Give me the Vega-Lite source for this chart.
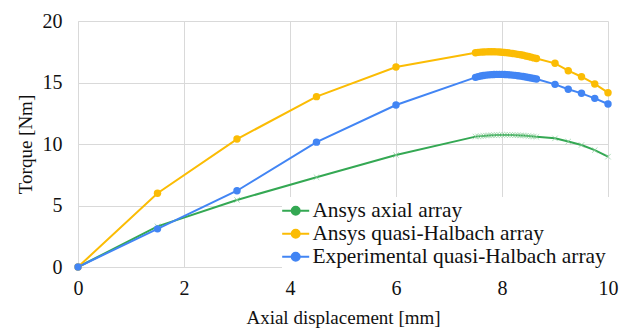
{
  "$schema": "https://vega.github.io/schema/vega-lite/v6.json",
  "width": 530,
  "height": 246,
  "autosize": "none",
  "padding": {"left": 78, "top": 21, "right": 11, "bottom": 62},
  "background": "white",
  "config": {
    "view": {"stroke": null},
    "font": "Liberation Serif",
    "axis": {
      "gridColor": "#d9d9d9",
      "domainColor": "#d9d9d9",
      "ticks": false,
      "labelFont": "Liberation Serif",
      "titleFont": "Liberation Serif",
      "labelFontSize": 20,
      "titleFontSize": 19,
      "labelColor": "#111",
      "titleColor": "#111",
      "titleFontWeight": "normal",
      "labelFlush": false
    }
  },
  "data": {"values": [
    {"x": 0, "y": 0, "s": "Ansys axial array"},
    {"x": 1.5, "y": 3.3, "s": "Ansys axial array"},
    {"x": 3, "y": 5.45, "s": "Ansys axial array"},
    {"x": 4.5, "y": 7.3, "s": "Ansys axial array"},
    {"x": 6, "y": 9.1, "s": "Ansys axial array"},
    {"x": 7.5, "y": 10.6, "s": "Ansys axial array"},
    {"x": 7.55, "y": 10.62, "s": "Ansys axial array"},
    {"x": 7.6, "y": 10.64, "s": "Ansys axial array"},
    {"x": 7.65, "y": 10.66, "s": "Ansys axial array"},
    {"x": 7.7, "y": 10.68, "s": "Ansys axial array"},
    {"x": 7.75, "y": 10.7, "s": "Ansys axial array"},
    {"x": 7.8, "y": 10.71, "s": "Ansys axial array"},
    {"x": 7.85, "y": 10.72, "s": "Ansys axial array"},
    {"x": 7.9, "y": 10.73, "s": "Ansys axial array"},
    {"x": 7.95, "y": 10.73, "s": "Ansys axial array"},
    {"x": 8.0, "y": 10.74, "s": "Ansys axial array"},
    {"x": 8.05, "y": 10.74, "s": "Ansys axial array"},
    {"x": 8.1, "y": 10.74, "s": "Ansys axial array"},
    {"x": 8.15, "y": 10.73, "s": "Ansys axial array"},
    {"x": 8.2, "y": 10.73, "s": "Ansys axial array"},
    {"x": 8.25, "y": 10.72, "s": "Ansys axial array"},
    {"x": 8.3, "y": 10.71, "s": "Ansys axial array"},
    {"x": 8.35, "y": 10.7, "s": "Ansys axial array"},
    {"x": 8.4, "y": 10.69, "s": "Ansys axial array"},
    {"x": 8.45, "y": 10.67, "s": "Ansys axial array"},
    {"x": 8.5, "y": 10.65, "s": "Ansys axial array"},
    {"x": 8.55, "y": 10.63, "s": "Ansys axial array"},
    {"x": 8.6, "y": 10.61, "s": "Ansys axial array"},
    {"x": 8.65, "y": 10.58, "s": "Ansys axial array"},
    {"x": 9.0, "y": 10.46, "s": "Ansys axial array"},
    {"x": 9.25, "y": 10.2, "s": "Ansys axial array"},
    {"x": 9.5, "y": 9.92, "s": "Ansys axial array"},
    {"x": 9.75, "y": 9.5, "s": "Ansys axial array"},
    {"x": 10, "y": 8.97, "s": "Ansys axial array"},

    {"x": 0, "y": 0, "s": "Ansys quasi-Halbach array"},
    {"x": 1.5, "y": 6.0, "s": "Ansys quasi-Halbach array"},
    {"x": 3, "y": 10.4, "s": "Ansys quasi-Halbach array"},
    {"x": 4.5, "y": 13.85, "s": "Ansys quasi-Halbach array"},
    {"x": 6, "y": 16.26, "s": "Ansys quasi-Halbach array"},
    {"x": 7.5, "y": 17.42, "s": "Ansys quasi-Halbach array"},
    {"x": 7.55, "y": 17.45, "s": "Ansys quasi-Halbach array"},
    {"x": 7.6, "y": 17.47, "s": "Ansys quasi-Halbach array"},
    {"x": 7.65, "y": 17.48, "s": "Ansys quasi-Halbach array"},
    {"x": 7.7, "y": 17.49, "s": "Ansys quasi-Halbach array"},
    {"x": 7.75, "y": 17.5, "s": "Ansys quasi-Halbach array"},
    {"x": 7.8, "y": 17.5, "s": "Ansys quasi-Halbach array"},
    {"x": 7.85, "y": 17.5, "s": "Ansys quasi-Halbach array"},
    {"x": 7.9, "y": 17.49, "s": "Ansys quasi-Halbach array"},
    {"x": 7.95, "y": 17.48, "s": "Ansys quasi-Halbach array"},
    {"x": 8.0, "y": 17.46, "s": "Ansys quasi-Halbach array"},
    {"x": 8.05, "y": 17.44, "s": "Ansys quasi-Halbach array"},
    {"x": 8.1, "y": 17.42, "s": "Ansys quasi-Halbach array"},
    {"x": 8.15, "y": 17.39, "s": "Ansys quasi-Halbach array"},
    {"x": 8.2, "y": 17.36, "s": "Ansys quasi-Halbach array"},
    {"x": 8.25, "y": 17.33, "s": "Ansys quasi-Halbach array"},
    {"x": 8.3, "y": 17.29, "s": "Ansys quasi-Halbach array"},
    {"x": 8.35, "y": 17.25, "s": "Ansys quasi-Halbach array"},
    {"x": 8.4, "y": 17.21, "s": "Ansys quasi-Halbach array"},
    {"x": 8.45, "y": 17.16, "s": "Ansys quasi-Halbach array"},
    {"x": 8.5, "y": 17.11, "s": "Ansys quasi-Halbach array"},
    {"x": 8.55, "y": 17.06, "s": "Ansys quasi-Halbach array"},
    {"x": 8.6, "y": 17.0, "s": "Ansys quasi-Halbach array"},
    {"x": 8.65, "y": 16.95, "s": "Ansys quasi-Halbach array"},
    {"x": 9.0, "y": 16.56, "s": "Ansys quasi-Halbach array"},
    {"x": 9.25, "y": 15.96, "s": "Ansys quasi-Halbach array"},
    {"x": 9.5, "y": 15.47, "s": "Ansys quasi-Halbach array"},
    {"x": 9.75, "y": 14.88, "s": "Ansys quasi-Halbach array"},
    {"x": 10, "y": 14.17, "s": "Ansys quasi-Halbach array"},

    {"x": 0, "y": 0, "s": "Experimental quasi-Halbach array"},
    {"x": 1.5, "y": 3.1, "s": "Experimental quasi-Halbach array"},
    {"x": 3, "y": 6.2, "s": "Experimental quasi-Halbach array"},
    {"x": 4.5, "y": 10.15, "s": "Experimental quasi-Halbach array"},
    {"x": 6, "y": 13.17, "s": "Experimental quasi-Halbach array"},
    {"x": 7.5, "y": 15.42, "s": "Experimental quasi-Halbach array"},
    {"x": 7.55, "y": 15.48, "s": "Experimental quasi-Halbach array"},
    {"x": 7.6, "y": 15.53, "s": "Experimental quasi-Halbach array"},
    {"x": 7.65, "y": 15.57, "s": "Experimental quasi-Halbach array"},
    {"x": 7.7, "y": 15.6, "s": "Experimental quasi-Halbach array"},
    {"x": 7.75, "y": 15.62, "s": "Experimental quasi-Halbach array"},
    {"x": 7.8, "y": 15.64, "s": "Experimental quasi-Halbach array"},
    {"x": 7.85, "y": 15.65, "s": "Experimental quasi-Halbach array"},
    {"x": 7.9, "y": 15.66, "s": "Experimental quasi-Halbach array"},
    {"x": 7.95, "y": 15.66, "s": "Experimental quasi-Halbach array"},
    {"x": 8.0, "y": 15.66, "s": "Experimental quasi-Halbach array"},
    {"x": 8.05, "y": 15.65, "s": "Experimental quasi-Halbach array"},
    {"x": 8.1, "y": 15.64, "s": "Experimental quasi-Halbach array"},
    {"x": 8.15, "y": 15.62, "s": "Experimental quasi-Halbach array"},
    {"x": 8.2, "y": 15.6, "s": "Experimental quasi-Halbach array"},
    {"x": 8.25, "y": 15.58, "s": "Experimental quasi-Halbach array"},
    {"x": 8.3, "y": 15.55, "s": "Experimental quasi-Halbach array"},
    {"x": 8.35, "y": 15.52, "s": "Experimental quasi-Halbach array"},
    {"x": 8.4, "y": 15.49, "s": "Experimental quasi-Halbach array"},
    {"x": 8.45, "y": 15.45, "s": "Experimental quasi-Halbach array"},
    {"x": 8.5, "y": 15.41, "s": "Experimental quasi-Halbach array"},
    {"x": 8.55, "y": 15.37, "s": "Experimental quasi-Halbach array"},
    {"x": 8.6, "y": 15.33, "s": "Experimental quasi-Halbach array"},
    {"x": 8.65, "y": 15.28, "s": "Experimental quasi-Halbach array"},
    {"x": 9.0, "y": 14.85, "s": "Experimental quasi-Halbach array"},
    {"x": 9.25, "y": 14.45, "s": "Experimental quasi-Halbach array"},
    {"x": 9.5, "y": 14.12, "s": "Experimental quasi-Halbach array"},
    {"x": 9.75, "y": 13.71, "s": "Experimental quasi-Halbach array"},
    {"x": 10, "y": 13.25, "s": "Experimental quasi-Halbach array"}
  ]},
  "encoding": {
    "x": {"field": "x", "type": "quantitative", "title": "Axial displacement [mm]",
      "scale": {"domain": [0, 10], "nice": false},
      "axis": {"values": [0, 2, 4, 6, 8, 10], "labelPadding": 11, "titlePadding": 10}},
    "y": {"field": "y", "type": "quantitative", "title": "Torque [Nm]",
      "scale": {"domain": [0, 20], "nice": false},
      "axis": {"values": [0, 5, 10, 15, 20], "labelPadding": 16, "titlePadding": 7}},
    "color": {"field": "s", "type": "nominal", "title": null,
      "scale": {"domain": ["Ansys axial array", "Ansys quasi-Halbach array", "Experimental quasi-Halbach array"],
                "range": ["#34A853", "#FBBC04", "#4285F4"]}}
  },
  "layer": [
    {
      "mark": {"type": "line", "strokeWidth": 2},
      "encoding": {
        "color": {"field": "s", "type": "nominal", "title": null,
          "scale": {"domain": ["Ansys axial array", "Ansys quasi-Halbach array", "Experimental quasi-Halbach array"],
                    "range": ["#34A853", "#FBBC04", "#4285F4"]},
          "legend": {
            "orient": "none",
            "legendX": 204,
            "legendY": 176,
            "fillColor": "white",
            "padding": 3,
            "labelFont": "Liberation Serif",
            "labelFontSize": 21.4,
            "labelColor": "#111",
            "labelLimit": 400,
            "labelOffset": 6,
            "rowPadding": 0,
            "symbolType": "M-1.93,0H1.93M-0.57,0A0.57,0.57 0 1,0 0.57,0A0.57,0.57 0 1,0 -0.57,0",
            "symbolSize": 196,
            "symbolStrokeWidth": 2,
            "encode": {"symbols": {"update": {"fill": [
              {"test": "datum.value === 'Ansys axial array'", "value": "transparent"},
              {"scale": "color", "field": "value"}
            ]}}}
          }
        }
      }
    },
    {
      "transform": [{"filter": "datum.s === 'Ansys axial array'"}],
      "mark": {"type": "point", "shape": "M-1,-1L1,1M-1,1L1,-1", "filled": false, "size": 30, "strokeWidth": 1, "color": "#8fd19e"},
      "encoding": {"color": {"value": "#8fd19e"}}
    },
    {
      "transform": [{"filter": "datum.s !== 'Ansys axial array'"}],
      "mark": {"type": "point", "shape": "circle", "filled": true, "size": 55, "opacity": 1},
      "encoding": {"color": {"field": "s", "type": "nominal", "legend": null}}
    }
  ]
}
